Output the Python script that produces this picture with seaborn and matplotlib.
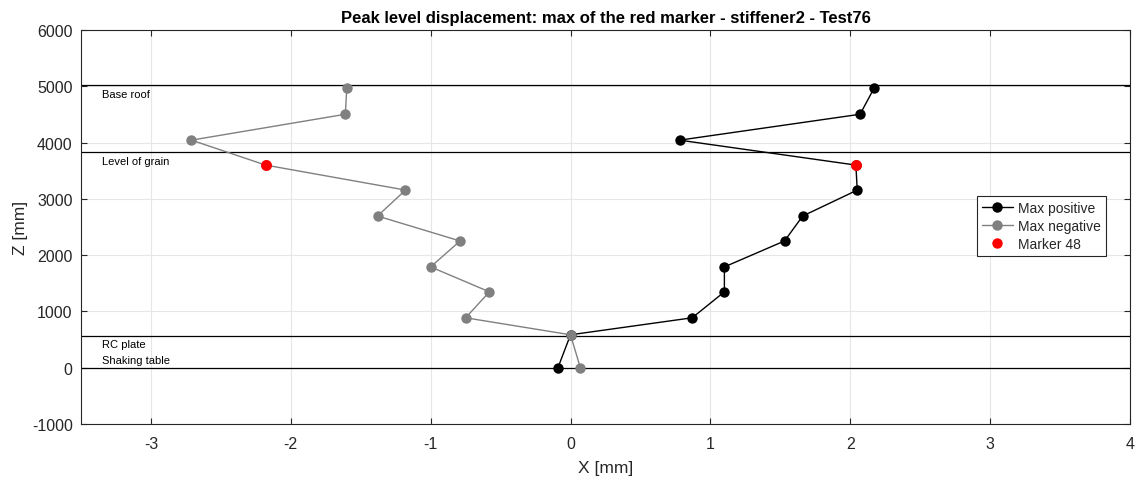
import matplotlib
matplotlib.use("Agg")
import matplotlib.pyplot as plt
import seaborn as sns
import pandas as pd
from matplotlib.lines import Line2D

sns.set_theme(style="white")
plt.rcParams['font.family'] = ['Liberation Sans', 'DejaVu Sans']
plt.rcParams['axes.unicode_minus'] = False

# Data
z_levels = [0, 585, 887, 1348, 1791, 2252, 2695, 3156, 3600, 4043, 4503, 4965]
max_positive = [-0.09, 0.0, 0.87, 1.10, 1.10, 1.53, 1.66, 2.05, 2.04, 0.78, 2.07, 2.17]
max_negative = [0.07, 0.0, -0.75, -0.58, -1.00, -0.79, -1.38, -1.18, -2.18, -2.71, -1.61, -1.60]
marker_z = [3600, 3600]
marker_x = [2.04, -2.18]
level_names = ["Base roof", "Level of grain", "RC plate", "Shaking table"]
level_lines = [5020, 3830, 567, 0]
level_text_z = [4860, 3670, 430, 140]
x_ticks = [-3, -2, -1, 0, 1, 2, 3, 4]
y_ticks = [-1000, 0, 1000, 2000, 3000, 4000, 5000, 6000]

fig = plt.figure(figsize=(11.4, 4.85), dpi=100)
ax = fig.add_axes([81/1140, 60/485, 1049/1140, 394/485])

df_pos = pd.DataFrame({"x": max_positive, "z": z_levels})
df_neg = pd.DataFrame({"x": max_negative, "z": z_levels})
df_mark = pd.DataFrame({"x": marker_x, "z": marker_z})

sns.lineplot(data=df_pos, x="x", y="z", sort=False, estimator=None, color="black",
             marker="o", markersize=7.5, markeredgewidth=0, linewidth=1.0, ax=ax, zorder=3)
sns.lineplot(data=df_neg, x="x", y="z", sort=False, estimator=None, color="#808080",
             marker="o", markersize=7.5, markeredgewidth=0, linewidth=1.0, ax=ax, zorder=3)
sns.scatterplot(data=df_mark, x="x", y="z", color="#ff0000", s=62, linewidth=0, ax=ax, zorder=4)

for name, zl, zt in zip(level_names, level_lines, level_text_z):
    ax.axhline(zl, color="black", linewidth=0.9, zorder=2)
    ax.text(-3.35, zt, name, fontsize=8, color="black", va="center", ha="left", zorder=5)

ax.set_xlim(-3.5, 4)
ax.set_ylim(-1000, 6000)
ax.set_xticks(x_ticks)
ax.set_yticks(y_ticks)
ax.grid(True, color="#e6e6e6", linewidth=0.8, zorder=0)
ax.set_axisbelow(True)
ax.tick_params(axis="both", direction="in", length=4, width=0.8, color="#262626",
               labelsize=11.5, labelcolor="#262626", bottom=True, left=True, top=True, right=True,
               labeltop=False, labelright=False)
ax.tick_params(axis="x", pad=9)
ax.tick_params(axis="y", pad=6)
for s in ax.spines.values():
    s.set_color("#262626")
    s.set_linewidth(0.8)

ax.set_xlabel("X [mm]", fontsize=12.5, color="#262626", labelpad=6)
ax.set_ylabel("Z [mm]", fontsize=12.5, color="#262626", labelpad=3)
ax.set_title("Peak level displacement: max of the red marker - stiffener2 - Test76",
             fontsize=12, fontweight="bold", color="black", pad=6)

handles = [
    Line2D([0], [0], color="black", marker="o", markersize=7.5, markeredgewidth=0, linewidth=1.0),
    Line2D([0], [0], color="#808080", marker="o", markersize=7.5, markeredgewidth=0, linewidth=1.0),
    Line2D([0], [0], color="#ff0000", marker="o", markersize=7.5, markeredgewidth=0, linewidth=0),
]
leg = ax.legend(handles, ["Max positive", "Max negative", "Marker 48"], loc="upper right",
                bbox_to_anchor=(0.977, 0.579), fontsize=10, frameon=True, fancybox=False,
                edgecolor="#262626", framealpha=1, handlelength=2.2, borderpad=0.35,
                labelspacing=0.3, handletextpad=0.4, borderaxespad=0)
leg.get_frame().set_linewidth(0.8)

fig.savefig("out.png", dpi=100)
